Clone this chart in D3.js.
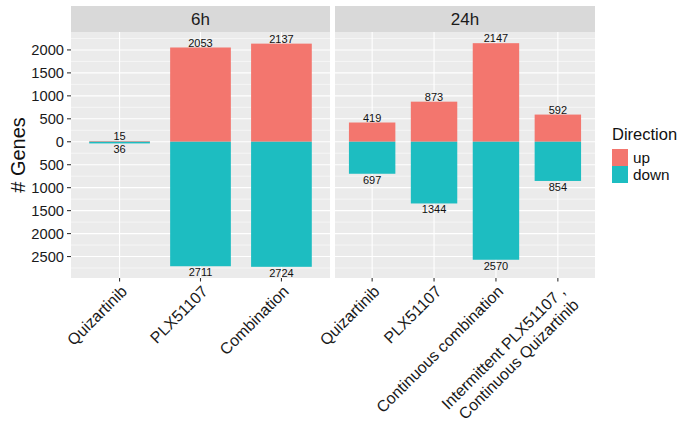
<!DOCTYPE html>
<html>
<head>
<meta charset="utf-8">
<script src="https://cdn.jsdelivr.net/npm/d3@7"></script>
<style>
  body { margin: 0; background: #fff; }
  svg { display: block; font-family: "Liberation Sans", Arial, sans-serif; }
</style>
</head>
<body>
<svg id="chart" width="678" height="428"></svg>
<script>
// ---- data ----
const panelNames = ["6h", "24h"];
const cats6 = ["Quizartinib", "PLX51107", "Combination"];
const up6 = [15, 2053, 2137];
const down6 = [36, 2711, 2724];
const cats24 = ["Quizartinib", "PLX51107", "Continuous combination", "Intermittent PLX51107 ,\nContinuous Quizartinib"];
const up24 = [419, 873, 2147, 592];
const down24 = [697, 1344, 2570, 854];
const yTicks = [-2500, -2000, -1500, -1000, -500, 0, 500, 1000, 1500, 2000];
const directions = ["up", "down"];
const dirColors = ["#F3766E", "#1DBDC1"];

// ---- layout ----
const svg = d3.select("#chart");
const pTop = 32, pBottom = 278, stripTop = 6;
const panelsLayout = [
  { name: panelNames[0], x0: 71, x1: 330, cats: cats6, up: up6, down: down6 },
  { name: panelNames[1], x0: 335, x1: 595, cats: cats24, up: up24, down: down24 }
];

const allVals = up6.concat(up24).concat(down6.map(d => -d)).concat(down24.map(d => -d));
const ymin = d3.min(allVals), ymax = d3.max(allVals);
const pad = (ymax - ymin) * 0.05;
const y = d3.scaleLinear().domain([ymin - pad, ymax + pad]).range([pBottom, pTop]);
const color = d3.scaleOrdinal().domain(directions).range(dirColors);

const minorTicks = [];
for (let i = 0; i < yTicks.length - 1; i++) minorTicks.push((yTicks[i] + yTicks[i + 1]) / 2);
minorTicks.unshift(yTicks[0] - 250);
minorTicks.push(yTicks[yTicks.length - 1] + 250);

panelsLayout.forEach(p => {
  const x = d3.scalePoint().domain(p.cats).range([p.x0, p.x1]).padding(0.6);
  const bw = x.step() * 0.75;
  const g = svg.append("g");

  // strip
  g.append("rect").attr("x", p.x0).attr("y", stripTop).attr("width", p.x1 - p.x0).attr("height", pTop - stripTop).attr("fill", "#D9D9D9");
  g.append("text").attr("x", (p.x0 + p.x1) / 2).attr("y", (stripTop + pTop) / 2).attr("dy", "0.36em")
    .attr("text-anchor", "middle").attr("font-size", 17).attr("fill", "#1a1a1a").text(p.name);

  // panel bg
  g.append("rect").attr("x", p.x0).attr("y", pTop).attr("width", p.x1 - p.x0).attr("height", pBottom - pTop).attr("fill", "#EBEBEB");

  // grid
  g.selectAll(".minor").data(minorTicks.filter(v => y(v) > pTop && y(v) < pBottom)).enter().append("line")
    .attr("x1", p.x0).attr("x2", p.x1).attr("y1", d => y(d)).attr("y2", d => y(d))
    .attr("stroke", "#fff").attr("stroke-width", 0.55);
  g.selectAll(".major").data(yTicks).enter().append("line")
    .attr("x1", p.x0).attr("x2", p.x1).attr("y1", d => y(d)).attr("y2", d => y(d))
    .attr("stroke", "#fff").attr("stroke-width", 1.1);
  g.selectAll(".vmajor").data(p.cats).enter().append("line")
    .attr("x1", d => x(d)).attr("x2", d => x(d)).attr("y1", pTop).attr("y2", pBottom)
    .attr("stroke", "#fff").attr("stroke-width", 1.1);

  // bars
  p.cats.forEach((c, i) => {
    g.append("rect").attr("x", x(c) - bw / 2).attr("width", bw)
      .attr("y", y(p.up[i])).attr("height", y(0) - y(p.up[i])).attr("fill", color("up"));
    g.append("rect").attr("x", x(c) - bw / 2).attr("width", bw)
      .attr("y", y(0)).attr("height", y(-p.down[i]) - y(0)).attr("fill", color("down"));
    g.append("text").attr("x", x(c)).attr("y", y(p.up[i]) - 0.7).attr("text-anchor", "middle")
      .attr("font-size", 11).attr("fill", "#111").text(p.up[i]);
    g.append("text").attr("x", x(c)).attr("y", y(-p.down[i]) + 1).attr("dy", "0.8em").attr("text-anchor", "middle")
      .attr("font-size", 11).attr("fill", "#111").text(p.down[i]);
  });

  // x axis ticks and labels
  p.cats.forEach(c => {
    g.append("line").attr("x1", x(c)).attr("x2", x(c)).attr("y1", pBottom).attr("y2", pBottom + 3.5)
      .attr("stroke", "#333").attr("stroke-width", 1.1);
    const lines = c.split("\n");
    const t = g.append("text").attr("text-anchor", "end").attr("font-size", 16).attr("fill", "#1a1a1a")
      .attr("transform", `translate(${x(c)},${pBottom + 6}) rotate(-45)`);
    lines.forEach((l, k) => {
      t.append("tspan").attr("x", 0).attr("y", 0).attr("dy", (0.74 + k * 1.2) + "em").text(l);
    });
  });
});

// y axis
const yAxis = svg.append("g");
yTicks.forEach(v => {
  yAxis.append("line").attr("x1", 67).attr("x2", 71).attr("y1", y(v)).attr("y2", y(v)).attr("stroke", "#333").attr("stroke-width", 1.1);
  yAxis.append("text").attr("x", 64).attr("y", y(v)).attr("dy", "0.36em").attr("text-anchor", "end")
    .attr("font-size", 14.7).attr("fill", "#1a1a1a").text(Math.abs(v));
});
svg.append("text").attr("transform", `translate(25,${(pTop + pBottom) / 2}) rotate(-90)`)
  .attr("text-anchor", "middle").attr("font-size", 20).attr("fill", "#111").text("# Genes");

// legend
const lg = svg.append("g");
lg.append("text").attr("x", 612).attr("y", 140).attr("font-size", 16.5).attr("fill", "#111").text("Direction");
directions.forEach((d, i) => {
  lg.append("rect").attr("x", 612).attr("y", 149 + i * 17).attr("width", 16).attr("height", 17).attr("fill", color(d));
  lg.append("text").attr("x", 633).attr("y", 149 + i * 17 + 8.5).attr("dy", "0.36em").attr("font-size", 15.3).attr("fill", "#111").text(d);
});
</script>
</body>
</html>
